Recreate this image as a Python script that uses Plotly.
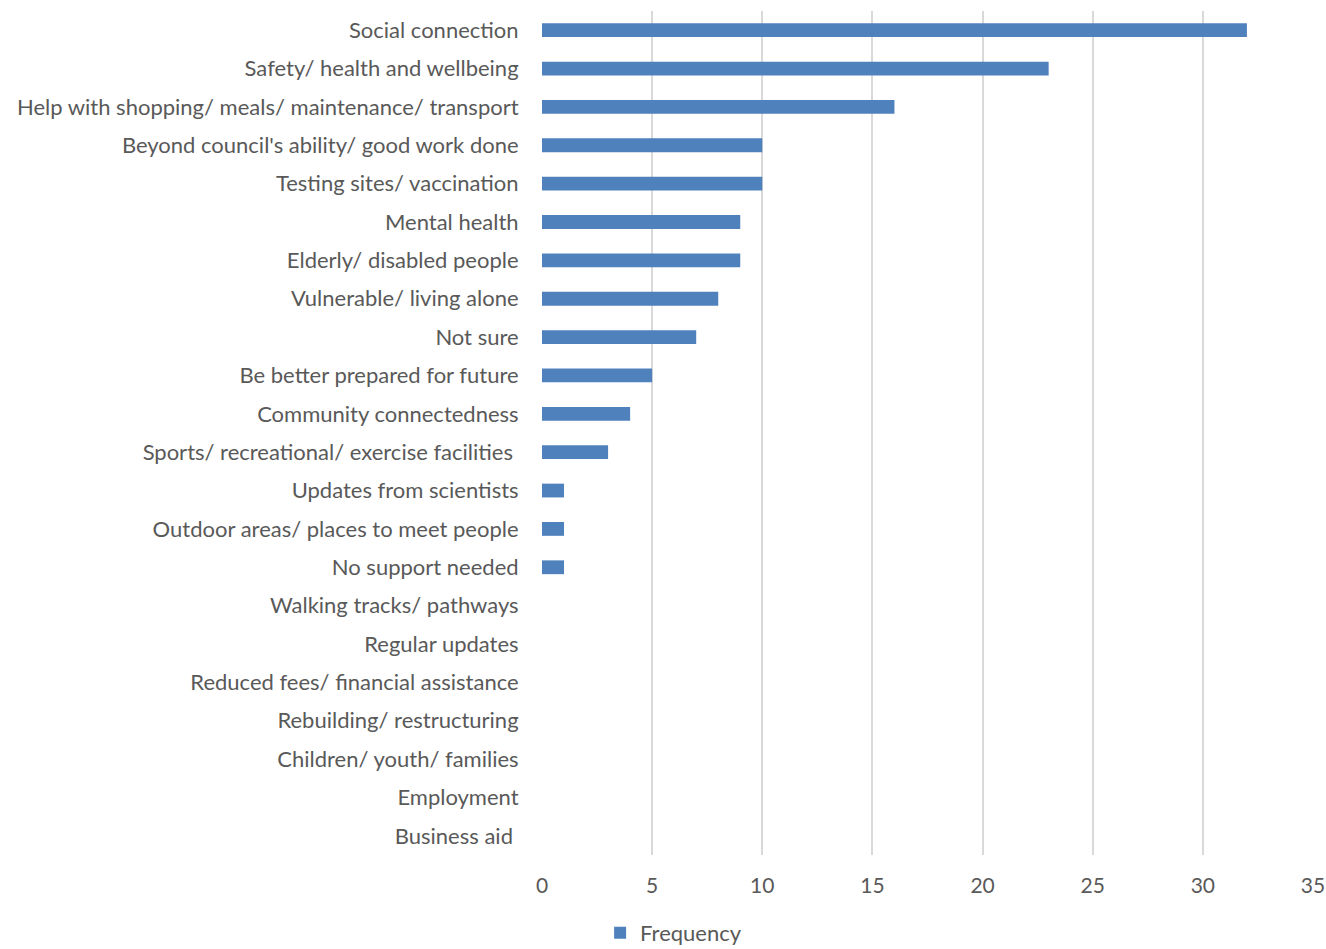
import plotly.graph_objects as go

categories = [
    "Social connection",
    "Safety/ health and wellbeing",
    "Help with shopping/ meals/ maintenance/ transport",
    "Beyond council's ability/ good work done",
    "Testing sites/ vaccination",
    "Mental health",
    "Elderly/ disabled people",
    "Vulnerable/ living alone",
    "Not sure",
    "Be better prepared for future",
    "Community connectedness",
    "Sports/ recreational/ exercise facilities\u00a0",
    "Updates from scientists",
    "Outdoor areas/ places to meet people",
    "No support needed",
    "Walking tracks/ pathways",
    "Regular updates",
    "Reduced fees/ financial assistance",
    "Rebuilding/ restructuring",
    "Children/ youth/ families",
    "Employment",
    "Business aid\u00a0",
]
frequency = [32, 23, 16, 10, 10, 9, 9, 8, 7, 5, 4, 3, 1, 1, 1, 0, 0, 0, 0, 0, 0, 0]
x_ticks = [0, 5, 10, 15, 20, 25, 30, 35]

font_family = "Lato, 'Open Sans', sans-serif"
text_color = "#595959"

fig = go.Figure(
    go.Bar(
        y=categories,
        x=frequency,
        orientation="h",
        name="Frequency",
        marker=dict(color="#4F81BD", line=dict(width=0)),
        width=0.36,
        showlegend=True,
    )
)

fig.update_layout(
    width=1326,
    height=949,
    margin=dict(l=542, r=13, t=11, b=94),
    paper_bgcolor="white",
    plot_bgcolor="white",
    font=dict(family=font_family, size=22, color=text_color),
    legend=dict(
        orientation="h",
        xref="container",
        yref="container",
        x=0.508,
        xanchor="center",
        y=0.017,
        yanchor="middle",
        font=dict(size=22, color=text_color),
        itemwidth=30,
    ),
    xaxis=dict(
        range=[0, 35],
        tickvals=x_ticks,
        showgrid=True,
        gridcolor="#D9D9D9",
        gridwidth=2,
        zeroline=False,
        showline=False,
        ticks="outside",
        ticklen=0,
        ticklabelstandoff=12,
        tickfont=dict(size=21, color=text_color),
        automargin=False,
        fixedrange=True,
    ),
    yaxis=dict(
        categoryorder="array",
        categoryarray=categories,
        autorange="reversed",
        showgrid=False,
        zeroline=False,
        showline=False,
        ticks="outside",
        ticklen=0,
        ticklabelstandoff=18,
        tickfont=dict(size=22, color=text_color),
        automargin=False,
        fixedrange=True,
    ),
)

fig.write_html("out.html")
